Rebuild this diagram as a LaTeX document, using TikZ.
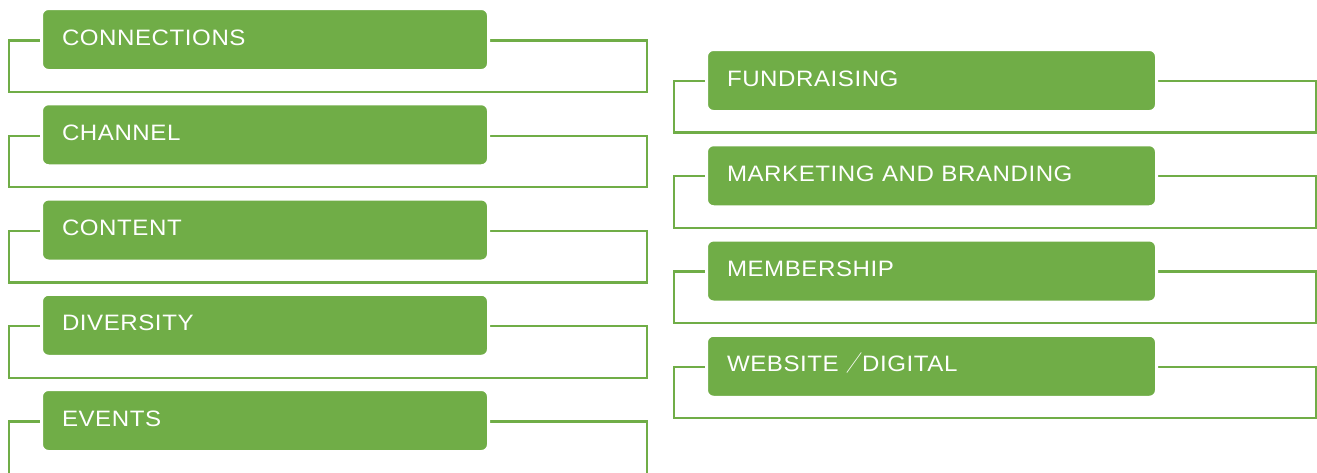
\documentclass[tikz,border=0pt]{standalone}
\usepackage{fontspec}
\newfontfamily\boxfont[LetterSpace=2.5,FakeStretch=1.08,WordSpace=1.3]{Liberation Sans}
\newfontfamily\cjkfont[FakeStretch=0.72]{Noto Sans CJK SC}
\definecolor{leaf}{RGB}{112,173,71}
\tikzset{
  itembox/.style={draw=white, line width=3pt, fill=leaf, rounded corners=7pt,
    text=white, font=\boxfont\fontsize{22.3pt}{25pt}\selectfont,
    inner xsep=20.5pt, inner ysep=0pt, align=left,
    text height=16pt, text depth=5pt, minimum height=62pt},
  leftbox/.style={itembox, text width=406pt},
  rightbox/.style={itembox, text width=409pt},
  frame/.style={draw=leaf, line width=2.3pt}
}
\begin{document}
\begin{tikzpicture}[x=1pt,y=-1pt]
\useasboundingbox (0,0) rectangle (1317,472);
\clip (0,0) rectangle (1317,472);
% left column
\foreach \t [count=\i from 0] in {CONNECTIONS,CHANNEL,CONTENT,DIVERSITY,EVENTS}{
  \pgfmathsetmacro{\dy}{95.25*\i}
  \draw[frame] (9,40.5+\dy) rectangle (647,{ifthenelse(\i==4,530,92+\dy)});
  \node[leftbox] (L\i) at (265,39.5+\dy) {\t};
}
% right column
\foreach \t [count=\i from 0] in {FUNDRAISING,MARKETING AND BRANDING,MEMBERSHIP,{WEBSITE {\cjkfont ／}DIGITAL}}{
  \pgfmathsetmacro{\dy}{95.25*\i}
  \draw[frame] (674,81+\dy) rectangle (1316,132.5+\dy);
  \node[rightbox] (R\i) at (931.5,80.5+\dy) {\t};
}
\end{tikzpicture}
\end{document}
